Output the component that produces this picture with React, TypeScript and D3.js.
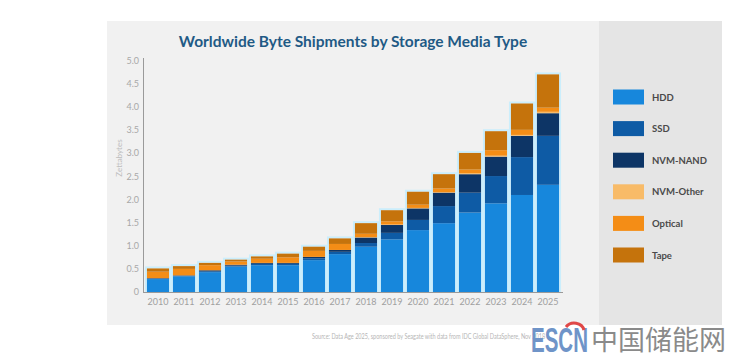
import React from 'react';
import * as d3 from 'd3';

// values, zettabytes
const years = ['2010', '2011', '2012', '2013', '2014', '2015', '2016', '2017', '2018', '2019', '2020', '2021', '2022', '2023', '2024', '2025'];
const hdd = [0.28, 0.34, 0.43, 0.55, 0.58, 0.58, 0.69, 0.82, 0.98, 1.14, 1.34, 1.49, 1.72, 1.92, 2.1, 2.32];
const ssd = [0.01, 0.01, 0.02, 0.02, 0.03, 0.03, 0.04, 0.05, 0.08, 0.14, 0.22, 0.37, 0.43, 0.59, 0.82, 1.06];
const nvmNand = [0.01, 0.01, 0.02, 0.02, 0.02, 0.02, 0.03, 0.04, 0.12, 0.17, 0.25, 0.29, 0.4, 0.42, 0.46, 0.49];
const nvmOther = [0, 0, 0, 0, 0, 0, 0, 0, 0.01, 0.01, 0.01, 0.01, 0.02, 0.02, 0.02, 0.03];
const optical = [0.14, 0.14, 0.11, 0.07, 0.09, 0.12, 0.13, 0.13, 0.07, 0.07, 0.07, 0.08, 0.08, 0.12, 0.11, 0.09];
const tape = [0.07, 0.06, 0.05, 0.04, 0.05, 0.08, 0.09, 0.12, 0.23, 0.24, 0.28, 0.31, 0.36, 0.41, 0.57, 0.72];
const seriesNames = ['HDD', 'SSD', 'NVM-NAND', 'NVM-Other', 'Optical', 'Tape'];
const seriesColors = ['#1787dc', '#0e5ba5', '#0d3566', '#f8bb68', '#f48d16', '#c5730c'];
const yTicks = [0, 0.5, 1, 1.5, 2, 2.5, 3, 3.5, 4, 4.5, 5];

const App = () => {
  const rows = years.map((yr, i) => ({
    year: yr,
    HDD: hdd[i],
    SSD: ssd[i],
    'NVM-NAND': nvmNand[i],
    'NVM-Other': nvmOther[i],
    Optical: optical[i],
    Tape: tape[i],
  }));

  const x = d3.scaleBand().domain(years).range([145, 561]).paddingInner(0.15).paddingOuter(0.075);
  const y = d3.scaleLinear().domain([0, 5]).range([292, 61]);
  const color = d3.scaleOrdinal<string, string>().domain(seriesNames).range(seriesColors);
  const stack = d3.stack<any>().keys(seriesNames)(rows);
  const totals = rows.map(r => d3.sum(seriesNames, k => r[k]));

  const legendY = d3.scalePoint().domain(seriesNames).range([97, 255]);

  return (
    <div style={{ position: 'absolute', left: 0, top: 0 }}>
      <svg width={738} height={360} style={{ display: 'block', background: '#fff' }}>
        {/* panel */}
        <rect x={107} y={21} width={615} height={304} fill="#f1f1f1" />
        <rect x={599} y={21} width={123} height={304} fill="#e5e5e5" />

        <text x={353} y={47} textAnchor="middle" fontFamily="Lato, 'Open Sans', sans-serif" fontWeight={700} fontSize={15.5} fill="#1f5a85">
          Worldwide Byte Shipments by Storage Media Type
        </text>

        {/* y axis */}
        <line x1={143.5} x2={143.5} y1={58} y2={292} stroke="#9a9a9a" strokeWidth={1} />
        {yTicks.map(t => (
          <text key={t} x={139} y={y(t) + 3} textAnchor="end" fontFamily="Lato, sans-serif" fontSize={9} fill="#a8a8a8">
            {t === 0 ? '0' : t.toFixed(1)}
          </text>
        ))}
        <text transform="translate(122,158) rotate(-90)" textAnchor="middle" fontFamily="Lato, sans-serif" fontSize={8} fill="#bdbdbd">
          Zettabytes
        </text>

        {/* bars */}
        {years.map((yr, i) => (
          <rect key={yr} x={x(yr)! - 1} y={y(totals[i]) - 1} width={x.bandwidth() + 2} height={y(0) - y(totals[i]) + 1}
            fill="none" stroke="#cbeefc" strokeWidth={2} />
        ))}
        {stack.map(s => (
          <g key={s.key} fill={color(s.key)}>
            {s.map((d, i) => (
              <rect key={i} x={x(years[i])} y={y(d[1])} width={x.bandwidth()} height={Math.max(0, y(d[0]) - y(d[1]))} />
            ))}
          </g>
        ))}

        {/* x axis */}
        <line x1={143} x2={563} y1={292.5} y2={292.5} stroke="#9a9a9a" strokeWidth={1} />
        {years.map(yr => (
          <text key={yr} x={x(yr)! + x.bandwidth() / 2} y={305} textAnchor="middle" fontFamily="Lato, sans-serif" fontSize={9} fill="#a0a0a0">
            {yr}
          </text>
        ))}

        {/* legend */}
        {seriesNames.map(n => (
          <g key={n} transform={`translate(613,${legendY(n)})`}>
            <rect x={0} y={-7.5} width={31} height={15} fill={color(n)} />
            <text x={39} y={3.5} fontFamily="Lato, sans-serif" fontWeight={700} fontSize={9.5} fill="#4a4a4a">
              {n}
            </text>
          </g>
        ))}

        {/* source, squeezed so it stops before the watermark */}
        <text transform="translate(312,339) scale(0.74,1)" fontFamily="Lato, sans-serif" fontSize={7.5} fill="#b5b5b5">
          Source: Data Age 2025, sponsored by Seagate with data from IDC Global DataSphere, Nov 2018
        </text>

        {/* watermark */}
        <text transform="translate(531,352) scale(0.57,1)" fontFamily="'Liberation Sans', sans-serif" fontWeight={700} fontSize={36} fill="#6f94c8">
          ESCN
        </text>
        <path d="M 566 327 A 10 9 0 0 1 584 330" fill="none" stroke="#e04848" strokeWidth={3} />
        <text x={591} y={350} fontFamily="'Noto Sans CJK SC', sans-serif" fontSize={27} fill="#8a8a8a">
          中国储能网
        </text>
      </svg>
    </div>
  );
};

export default App;
